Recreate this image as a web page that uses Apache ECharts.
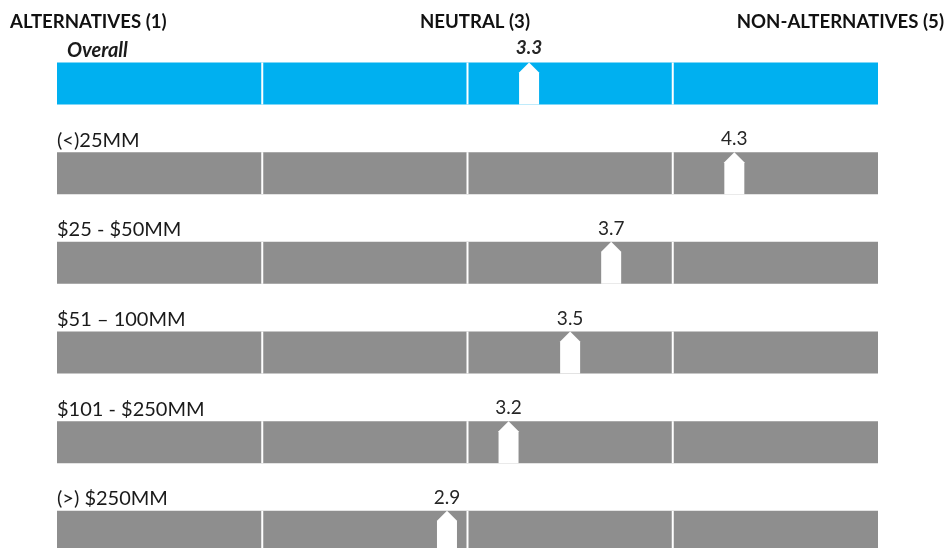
<!DOCTYPE html>
<html>
<head>
<meta charset="utf-8">
<script src="https://cdn.jsdelivr.net/npm/echarts@6/dist/echarts.min.js"></script>
<style>
  html, body { margin: 0; padding: 0; background: #ffffff; }
  #chart { width: 948px; height: 548px; }
</style>
</head>
<body>
<div id="chart"></div>
<script>
// Asset-size segments and their average score on the 1–5 scale
const segments = ['Overall', '(<)25MM', '$25 - $50MM', '$51 – 100MM', '$101 - $250MM', '(>) $250MM'];
const scores = [3.3, 4.3, 3.7, 3.5, 3.2, 2.9];

// Scale: 1 = alternatives, 3 = neutral, 5 = non-alternatives
const scaleMin = 1;
const scaleMax = 5;
const dividers = [2, 3, 4];
const scaleLabels = ['ALTERNATIVES (1)', 'NEUTRAL (3)', 'NON-ALTERNATIVES (5)'];

const FONT = 'Lato, "Open Sans", sans-serif';
const BAR_H = 42;
const MARK_W = 20;
const MARK_TIP = 10;

// Rows sit one unit apart on a value axis; the last row runs off the bottom edge
const GRID_TOP = 38.65;
const GRID_H = 548 - GRID_TOP;
const ROW_PITCH = 89.67;
const rowMin = -0.5;
const rowMax = rowMin + GRID_H / ROW_PITCH;

const chart = echarts.init(document.getElementById('chart'), null, { renderer: 'canvas' });

function renderRow(params, api) {
  const row = api.value(0);
  const v = api.value(1);
  const highlight = row === 0;
  const a = api.coord([scaleMin, row]);
  const b = api.coord([scaleMax, row]);
  const cy = a[1];
  const top = cy - BAR_H / 2;
  const bottom = top + BAR_H;
  const children = [];

  // full-width track
  children.push({
    type: 'rect',
    shape: { x: a[0], y: top, width: b[0] - a[0], height: BAR_H },
    style: { fill: highlight ? '#00B0F0' : '#8E8E8E' }
  });
  // white separators at each whole score
  dividers.forEach(function (t) {
    const p = api.coord([t, row]);
    children.push({
      type: 'rect',
      shape: { x: p[0] - 1, y: top, width: 2, height: BAR_H },
      style: { fill: '#ffffff' }
    });
  });

  // pointer marking the score
  const mx = api.coord([v, row])[0];
  children.push({
    type: 'polygon',
    shape: {
      points: [
        [mx - MARK_W / 2, bottom],
        [mx - MARK_W / 2, top + MARK_TIP],
        [mx, top],
        [mx + MARK_W / 2, top + MARK_TIP],
        [mx + MARK_W / 2, bottom]
      ]
    },
    style: { fill: '#ffffff' }
  });

  children.push({
    type: 'text',
    style: {
      text: String(v),
      x: mx,
      y: top - (highlight ? 15 : 13),
      align: 'center',
      verticalAlign: 'middle',
      fill: '#262626',
      font: (highlight ? 'italic bold ' : '') + '19px ' + FONT
    }
  });
  children.push({
    type: 'text',
    style: {
      text: segments[row],
      x: a[0] + (highlight ? 10 : 0),
      y: top - 12,
      align: 'left',
      verticalAlign: 'middle',
      fill: '#1a1a1a',
      font: (highlight ? 'italic bold ' : '') + '20px ' + FONT
    }
  });

  return { type: 'group', children: children };
}

chart.setOption({
  animation: false,
  backgroundColor: '#ffffff',
  grid: { left: 57, width: 821, top: GRID_TOP, height: GRID_H },
  xAxis: { type: 'value', min: scaleMin, max: scaleMax, show: false },
  yAxis: { type: 'value', min: rowMin, max: rowMax, inverse: true, show: false },
  graphic: [
    { type: 'text', x: 10, y: 22, style: { text: scaleLabels[0], verticalAlign: 'middle', font: 'bold 18.6px ' + FONT, fill: '#111111' } },
    { type: 'text', x: 475, y: 22, style: { text: scaleLabels[1], align: 'center', verticalAlign: 'middle', font: 'bold 18.6px ' + FONT, fill: '#111111' } },
    { type: 'text', x: 944, y: 22, style: { text: scaleLabels[2], align: 'right', verticalAlign: 'middle', font: 'bold 18.6px ' + FONT, fill: '#111111' } }
  ],
  series: [{
    type: 'custom',
    renderItem: renderRow,
    clip: false,
    encode: { x: 1, y: 0 },
    data: scores.map(function (s, i) { return [i, s]; })
  }]
});
</script>
</body>
</html>
